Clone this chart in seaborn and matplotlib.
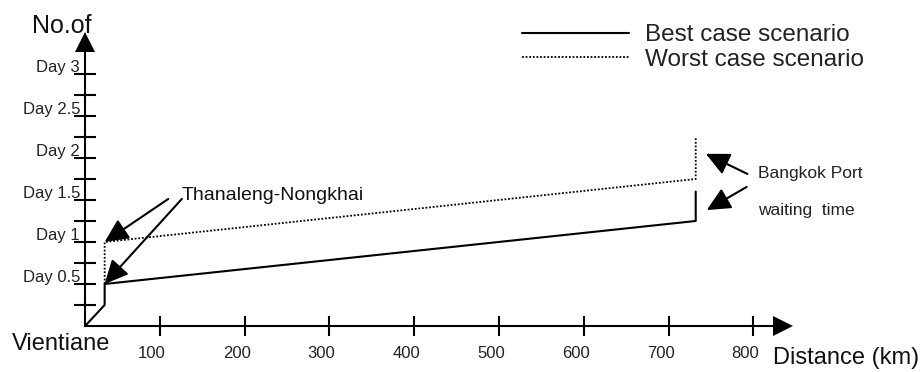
import matplotlib
matplotlib.use('Agg')
import matplotlib.pyplot as plt
import matplotlib.transforms as mtransforms
import seaborn as sns
import pandas as pd

# values: distance in km, time in days
scenarios = ['Best case scenario', 'Worst case scenario']
best_km = [12, 35, 35, 732, 732]
best_day = [0, 0.25, 0.5, 1.25, 1.6]
worst_km = [35, 35, 732, 732]
worst_day = [0.5, 1.0, 1.75, 2.25]

x_ticks = [100, 200, 300, 400, 500, 600, 700, 800]
y_ticks = [0.5, 1.0, 1.5, 2.0, 2.5, 3.0]
y_minor = [0.25, 0.75, 1.25, 1.75, 2.25, 2.75]
y_labels = ['Day 0.5', 'Day 1', 'Day 1.5', 'Day 2', 'Day 2.5', 'Day 3']

df = pd.concat([
    pd.DataFrame({'km': best_km, 'day': best_day, 'scenario': scenarios[0]}),
    pd.DataFrame({'km': worst_km, 'day': worst_day, 'scenario': scenarios[1]}),
], ignore_index=True)

sns.set_theme(style='white')
plt.rcParams['font.family'] = ['Liberation Sans', 'DejaVu Sans']

fig = plt.figure(figsize=(9.24, 3.72), dpi=100)
ax = fig.add_axes([0, 0, 1, 1])

sns.lineplot(data=df, x='km', y='day', style='scenario',
             dashes={scenarios[0]: '', scenarios[1]: (1, 1)},
             color='black', estimator=None, sort=False, legend=False, ax=ax)
ax.lines[0].set_linewidth(1.5)
ax.lines[1].set_linewidth(1.3)

ax.set_xlim(-88.4, 1001.2)
ax.set_ylim(-0.548, 3.881)
ax.set_xlabel('')
ax.set_ylabel('')

# axes drawn as crossing lines with arrow heads
for s in ['top', 'right']:
    ax.spines[s].set_visible(False)
ax.spines['left'].set_position(('data', best_km[0]))
ax.spines['bottom'].set_position(('data', 0))
ax.spines['left'].set_bounds(0, 3.27)
ax.spines['bottom'].set_bounds(best_km[0], 824)
for s in ['left', 'bottom']:
    ax.spines[s].set_color('black')
    ax.spines[s].set_linewidth(1.5)
ax.plot([best_km[0]], [3.375], marker='^', markersize=13.7, color='black', mew=0)
ax.plot([835], [0], marker='>', markersize=15, color='black', mew=0)

ax.set_xticks(x_ticks, [str(v) for v in x_ticks])
ax.set_yticks(y_ticks, y_labels)
ax.set_yticks(y_minor, minor=True)
ax.tick_params(axis='x', bottom=True, direction='inout', length=15, width=1.5,
               pad=7, labelsize=12, color='black', labelcolor='#222222')
ax.tick_params(axis='y', which='both', left=True, direction='inout', length=16,
               width=1.5, pad=-4.3, labelsize=12, color='black', labelcolor='#222222')

shift_x = mtransforms.ScaledTranslation(-8 / 100, 0, fig.dpi_scale_trans)
for lab in ax.get_xticklabels():
    lab.set_transform(lab.get_transform() + shift_x)
shift_y = mtransforms.ScaledTranslation(0, 2 / 100, fig.dpi_scale_trans)
for lab in ax.get_yticklabels():
    lab.set_va('baseline')
    lab.set_transform(lab.get_transform() + shift_y)

# callouts
arrow = dict(arrowstyle='-|>,head_length=0.96,head_width=0.46', mutation_scale=15,
             lw=1.5, color='black', shrinkA=0, shrinkB=0)
ax.annotate('', xy=(worst_km[0], worst_day[1]), xytext=(110, 1.512), arrowprops=arrow)
ax.annotate('', xy=(best_km[2], best_day[2]), xytext=(126, 1.512), arrowprops=arrow)
ax.text(126, 1.5, 'Thanaleng-Nongkhai', fontsize=14, va='baseline', color='#111111')

ax.annotate('', xy=(744, 2.05), xytext=(793, 1.81), arrowprops=arrow)
ax.annotate('', xy=(745, 1.38), xytext=(792, 1.655), arrowprops=arrow)
ax.text(805, 1.762, 'Bangkok Port', fontsize=12.5, va='baseline', color='#222222')
ax.text(805, 1.321, 'waiting  time', fontsize=12.5, va='baseline', color='#222222')

ax.text(-50.7, 3.488, 'No.of', fontsize=18, va='baseline', color='#111111')
ax.text(-74, -0.286, 'Vientiane', fontsize=17, va='baseline', color='#111111')
ax.text(823, -0.452, 'Distance (km)', fontsize=17, va='baseline', color='#111111')

ax.legend(handles=ax.lines[:2], labels=scenarios, loc='upper left',
          bbox_to_anchor=(522 / 924, 1 - 24 / 372), frameon=False, fontsize=17.5,
          handlelength=4.4, handletextpad=0.65, labelspacing=0.12,
          borderpad=0, borderaxespad=0, labelcolor='#222222')

fig.savefig('out.png', dpi=100, facecolor='white')
